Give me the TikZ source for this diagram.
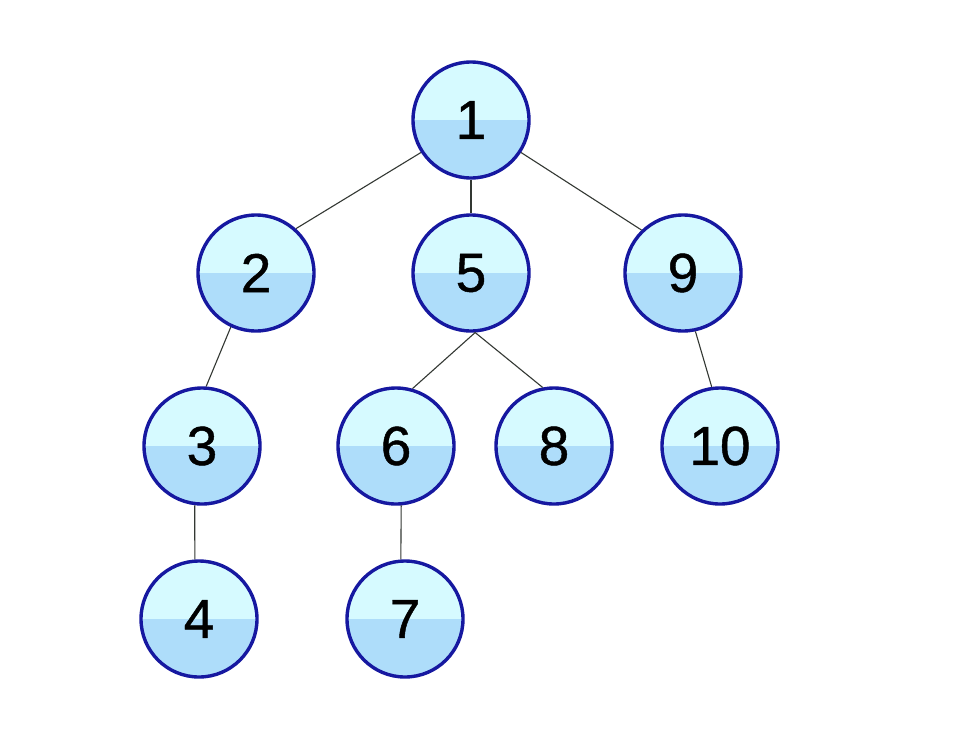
\documentclass[tikz,border=0pt]{standalone}
\usepackage{fontspec}
\setmainfont{Liberation Sans}
\newfontfamily\numfont{Liberation Sans}[FakeBold=0.8]
\definecolor{topc}{HTML}{D6FAFF}
\definecolor{botc}{HTML}{AEDDFA}
\definecolor{rimc}{HTML}{1618A0}
\definecolor{edgec}{HTML}{333833}
\begin{document}
\begin{tikzpicture}[x=1pt,y=-1pt,
  tnode/.style={circle, minimum size=116pt, inner sep=0pt, draw=rimc, line width=3.4pt,
    font=\numfont\fontsize{55}{55}\selectfont,
    path picture={
      \fill[topc] (path picture bounding box.north west) rectangle (path picture bounding box.east);
      \fill[botc] (path picture bounding box.west) rectangle (path picture bounding box.south east);}},
  link/.style={draw=edgec, line width=1.1pt}]
\useasboundingbox[fill=white] (0,0) rectangle (966,747);
\node[tnode] (n1) at (471,120) {1};
\node[tnode] (n2) at (256,273) {2};
\node[tnode] (n5) at (471,273) {5};
\node[tnode] (n9) at (683,273) {9};
\node[tnode] (n3) at (202,446) {3};
\node[tnode] (n6) at (396,446) {6};
\node[tnode] (n8) at (554,446) {8};
\node[tnode] (n10) at (720,446) {10};
\node[tnode] (n4) at (199,619) {4};
\node[tnode] (n7) at (405,619) {7};
\draw[link] (n1.-147) -- (n2.48);
\draw[link] (n1) -- (n5);
\draw[link] (n1.-33) -- (n9.134);
\draw[link] (n2.-115) -- (n3.86);
\draw[link] (n3.-97) -- (n4.94);
\draw[link] (n5.-86) -- (n6.74);
\draw[link] (n5.-86) -- (n8.101);
\draw[link] (n9.-78) -- (n10.98);
\draw[link] (n6.-85) -- (n7.94);
\end{tikzpicture}
\end{document}
